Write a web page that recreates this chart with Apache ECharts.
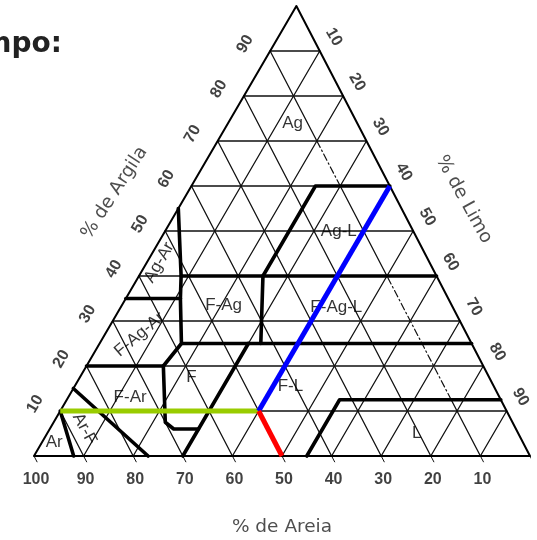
<!DOCTYPE html>
<html><head><meta charset="utf-8">
<script src="https://cdn.jsdelivr.net/npm/echarts@6/dist/echarts.min.js"></script>
<style>html,body{margin:0;padding:0;background:#fff}#c{width:537px;height:540px}</style>
</head><body><div id="c"></div>
<script>
// ---- data (ternary: [sand %, clay %]; silt = 100 - sand - clay) ----
const sandTicks = [100, 90, 80, 70, 60, 50, 40, 30, 20, 10];
const clayTicks = [10, 20, 30, 40, 50, 60, 70, 80, 90];
const siltTicks = [10, 20, 30, 40, 50, 60, 70, 80, 90];
const gridSteps = [10, 20, 30, 40, 50, 60, 70, 80, 90];

const classBoundaries = [
  [[0, 60], [15, 60], [35, 40]],
  [[45, 55], [51.5, 40], [54, 35], [58.5, 25], [64.5, 20]],
  [[51.5, 40], [0, 40]],
  [[35, 40], [42.5, 25]],
  [[65, 35], [54, 35]],
  [[58.5, 25], [0, 25]],
  [[80, 20], [64.5, 20]],
  [[64.5, 20], [70, 7.5], [69, 6], [64, 6]],
  [[70, 0], [45, 25]],
  [[45, 0], [32.5, 12.5], [0, 12.5]],
  [[85, 15], [77, 0]],
  [[90, 10], [92, 0]]
];
// sand = 10 line drawn dash-dot in these clay ranges
const dashDotSand = 10;
const dashDotClayRanges = [[12.5, 40], [60, 70]];

const classNames = ['Ag', 'Ag-L', 'F-Ag-L', 'F-Ag', 'Ag-Ar', 'F-Ag-Ar', 'F', 'F-Ar', 'F-L', 'L', 'Ar-F', 'Ar'];
const classSand  = [13, 15, 23.5, 46, 54.5, 66, 60, 74.5, 41, 20.5, 87, 94.5];
const classClay  = [74, 50, 33, 33.5, 43, 27, 17.5, 13, 15.5, 5, 6, 3];

const sample = { sand: 50, clay: 10 };

const titleText = 'Campo:';
const sandTitle = '% de Areia';
const clayTitle = '% de Argila';
const siltTitle = '% de Limo';

// ---- projection ----
const K = 0.471;
function xy(s, c) { return [100 - s - K * c, c]; }

// screen offset -> label-local offset for a label rotated by deg (CCW)
function off(dx, dy, deg) {
  const t = (deg || 0) * Math.PI / 180, c = Math.cos(t), s = Math.sin(t);
  return [dx * c - dy * s, dx * s + dy * c];
}

const series = [];
function seg(points, style, z) {
  series.push({
    type: 'line', data: points.map(p => xy(p[0], p[1])), symbol: 'none',
    silent: true, animation: false, clip: false, z: z || 2,
    lineStyle: Object.assign({ color: '#111', width: 1.3, cap: 'round', join: 'round' }, style)
  });
}

// grid lines
gridSteps.forEach(v => {
  seg([[100 - v, v], [0, v]], {});            // clay = v
  seg([[100 - v, 0], [0, 100 - v]], {});      // silt = v
  if (v !== dashDotSand) {
    seg([[v, 0], [v, 100 - v]], {});          // sand = v
  } else {
    let last = 0;
    dashDotClayRanges.forEach(r => {
      seg([[v, last], [v, r[0]]], {});
      seg([[v, r[0]], [v, r[1]]], { type: [7, 3, 1.5, 3], width: 1.2 });
      last = r[1];
    });
    seg([[v, last], [v, 100 - v]], {});
  }
});
// ticks below the base
sandTicks.concat([0]).forEach(s => seg([[s, 0], [s, -1.3]], { width: 1 }));
// outer triangle
seg([[100, 0], [0, 0], [0, 100], [100, 0]], { color: '#000', width: 2 }, 3);
// class boundaries
classBoundaries.forEach(b => seg(b, { color: '#000', width: 3.6 }, 4));
// sample lines
const silt = 100 - sample.sand - sample.clay;
seg([[100 - sample.clay, sample.clay], [sample.sand, sample.clay]], { color: '#99cc00', width: 5, cap: 'butt' }, 6);
seg([[sample.sand, sample.clay], [0, 100 - silt]], { color: '#0000ff', width: 5, cap: 'butt' }, 6);
seg([[sample.sand, sample.clay], [sample.sand, 0]], { color: '#ff0000', width: 5, cap: 'butt' }, 6);

function labels(items, lab, z) {
  series.push({
    type: 'scatter', symbolSize: 1, silent: true, animation: false, z: z || 8, clip: false,
    itemStyle: { color: 'rgba(0,0,0,0)' },
    data: items,
    label: Object.assign({ show: true, position: 'inside', formatter: '{b}', align: 'center', verticalAlign: 'middle', color: '#000' }, lab)
  });
}
const tickFont = { fontFamily: "'Liberation Sans Narrow','Liberation Sans',Arial,sans-serif", fontWeight: 'bold', fontSize: 16, color: '#111' };
labels(sandTicks.map(s => ({ name: String(s), value: xy(s, 0) })), Object.assign({ offset: [2, 24] }, tickFont));
labels(clayTicks.map(c => ({ name: String(c), value: xy(100 - c, c) })), Object.assign({ offset: off(-25, -7, 60), rotate: 60 }, tickFont));
labels(siltTicks.map(v => ({ name: String(v), value: xy(0, 100 - v) })), Object.assign({ offset: off(14, -14, -60), rotate: -60 }, tickFont));

const titleFont = { fontFamily: "'DejaVu Sans',Verdana,sans-serif", fontSize: 18.5, color: '#222' };
labels([{ name: sandTitle, value: xy(50, 0) }], Object.assign({ offset: [0, 71] }, titleFont));
labels([{ name: clayTitle, value: xy(41.5, 58.5) }], Object.assign({ offset: off(-73, 0, 57), rotate: 57 }, titleFont));
labels([{ name: siltTitle, value: xy(0, 57) }], Object.assign({ offset: off(67, 0, -61), rotate: -61 }, titleFont));

const rot = { 'Ag-Ar': 60, 'F-Ag-Ar': 40, 'Ar-F': -62 };
labels(classNames.map((n, i) => ({
  name: n, value: xy(classSand[i], classClay[i]),
  label: rot[n] ? { rotate: rot[n] } : {}
})), { fontFamily: "'Liberation Sans',Arial,sans-serif", fontSize: 17, color: '#000' }, 5);

const chart = echarts.init(document.getElementById('c'), null, { renderer: 'canvas' });
chart.setOption({
  animation: false,
  grid: { left: 34, top: 6, width: 496, height: 450 },
  xAxis: { type: 'value', min: 0, max: 100, show: false },
  yAxis: { type: 'value', min: 0, max: 100, show: false },
  graphic: [{
    type: 'text', x: 62, y: 45, silent: true,
    style: { text: titleText, x: 0, y: 0, textAlign: 'right', textVerticalAlign: 'middle',
      font: "bold 28px 'DejaVu Sans', Verdana, sans-serif", fill: '#222' }
  }],
  series: series
});
</script></body></html>
